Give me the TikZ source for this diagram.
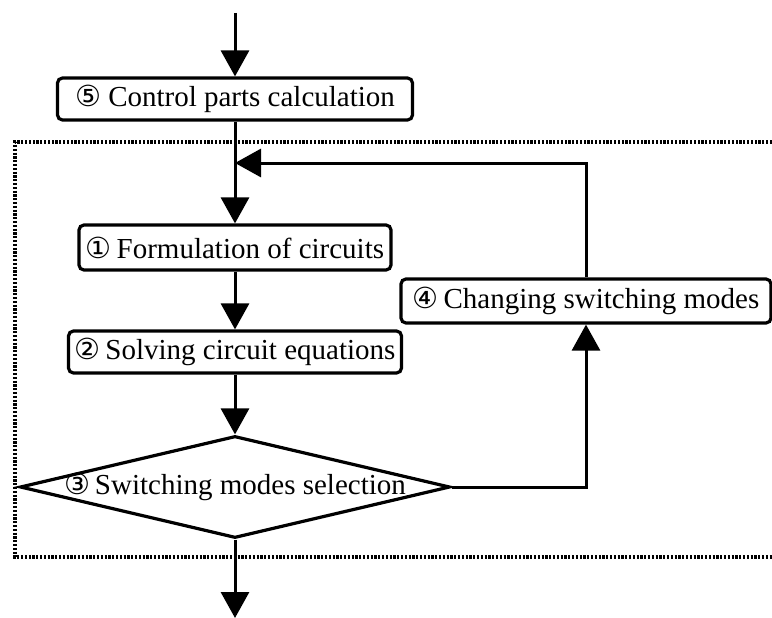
\documentclass[tikz,border=0pt]{standalone}
\usepackage{fontspec}
\setmainfont{Liberation Serif}
\newfontfamily\circfont{DejaVu Sans}
\usetikzlibrary{arrows.meta,positioning,shapes.geometric}

\newcommand{\cnum}[1]{{\circfont\fontsize{29}{30}\selectfont #1}}

\tikzset{
  stepbox/.style={draw,line width=3.2pt,rounded corners=5pt,fill=white,
    inner sep=0pt,font=\fontsize{29}{32}\selectfont},
  choice/.style={draw,diamond,line width=3.2pt,fill=white,inner sep=0pt,
    minimum width=430pt,minimum height=102pt,font=\fontsize{29}{32}\selectfont},
  flow/.style={line width=3pt,-{Triangle[length=26pt,width=28pt]}},
  frame/.style={line width=3.2pt,dash pattern=on 2.2pt off 1.6pt}
}

\begin{document}
\begin{tikzpicture}[x=1pt,y=-1pt]
  \useasboundingbox (0,0) rectangle (772,618);
  % dotted frame, open to the right
  \draw[frame] (772,142) -- (15,142) -- (15,557) -- (772,557);

  \coordinate (in) at (235,13);
  \coordinate (out) at (235,618);
  \coordinate (join) at (235,163);

  \node[stepbox,minimum width=355pt,minimum height=42pt] (calc) at (235,99)
    {\cnum{⑤}\ Control parts calculation};
  \node[stepbox,minimum width=312pt,minimum height=45pt] (form) at (235,247.5)
    {\cnum{①}\,Formulation of circuits};
  \node[stepbox,minimum width=333pt,minimum height=42pt] (solve) at (235,352)
    {\cnum{②}\,Solving circuit equations};
  \node[choice] (select) at (235,487)
    {\makebox[0pt]{\cnum{③}\,Switching modes selection}};
  \node[stepbox,minimum width=370pt,minimum height=44pt] (change) at (586,301)
    {\cnum{④}\,Changing switching modes};

  \draw[flow] (in) -- (calc.north);
  \draw[flow] (calc.south) -- (form.north);
  \draw[flow] (form.south) -- (solve.north);
  \draw[flow] (solve.south) -- (select.north);
  \draw[flow] (select.east) -| (change.south);
  \draw[flow] (change.north) |- (join);
  \draw[flow] (select.south) -- (out);
\end{tikzpicture}
\end{document}
